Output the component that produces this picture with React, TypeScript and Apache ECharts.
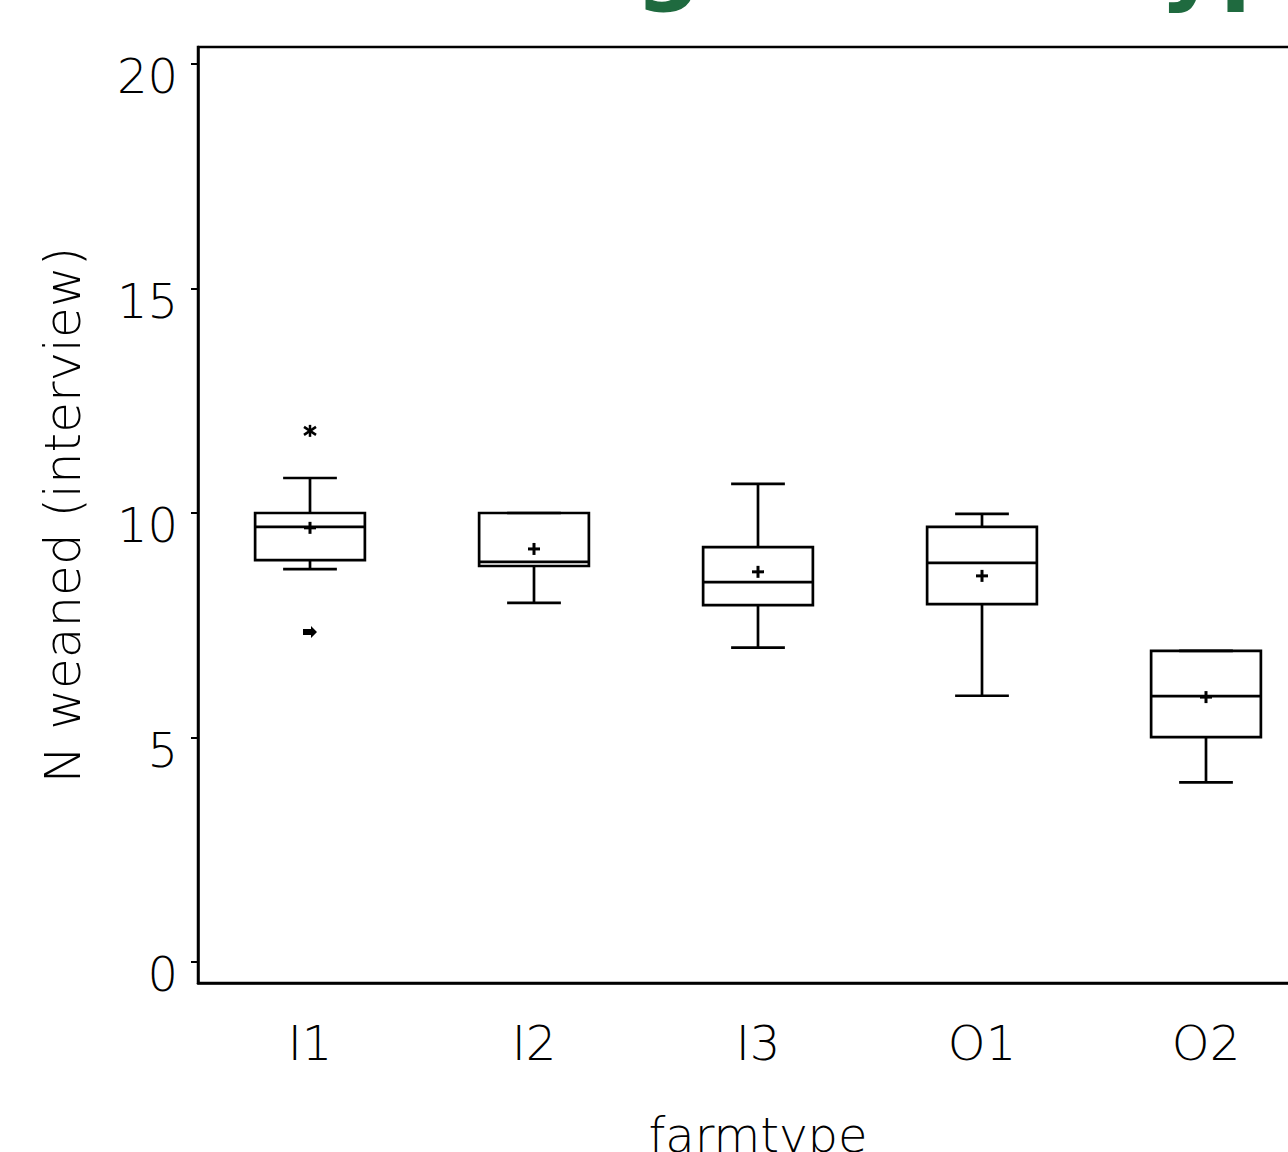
import React, { useEffect, useRef } from "react";
import * as echarts from "echarts";

// ---- data ----
const categories = ["I1", "I2", "I3", "O1", "O2"];
const whiskerLow = [8.75, 8.0, 7.0, 5.93, 4.0];
const quartile1 = [8.95, 8.82, 7.95, 7.97, 5.01];
const medians = [9.69, 8.91, 8.46, 8.89, 5.92];
const quartile3 = [10.0, 10.0, 9.24, 9.69, 6.93];
const whiskerHigh = [10.78, 10.0, 10.65, 9.98, 6.93];
const means = [9.67, 9.2, 8.69, 8.6, 5.9];
const outlierCategory = ["I1", "I1"];
const outlierValues = [11.83, 7.35];
const outlierSymbols = ["star", "arrow"];
const yTicks = [0, 5, 10, 15, 20];
const yAxisTitle = "N weaned (interview)";
const xAxisTitle = "farmtype";
const titleText = "Weaned according to farmtype";

const FONT = "'DejaVu Sans ExtraLight', 'DejaVu Sans'";

export default function App() {
  const ref = useRef<HTMLDivElement | null>(null);

  useEffect(() => {
    if (!ref.current) return;
    const chart = echarts.init(ref.current, undefined, { renderer: "svg" });

    const boxData = categories.map((c, i) => [
      i,
      whiskerLow[i],
      quartile1[i],
      medians[i],
      quartile3[i],
      whiskerHigh[i],
      means[i],
    ]);
    const outlierData = outlierValues.map((v, i) => [
      categories.indexOf(outlierCategory[i]),
      v,
    ]);

    const lineStyle = { stroke: "#000", lineWidth: 2.7 };

    const boxRender = (params: any, api: any) => {
      const i = api.value(0);
      const pLo = api.coord([i, api.value(1)]);
      const pQ1 = api.coord([i, api.value(2)]);
      const pMed = api.coord([i, api.value(3)]);
      const pQ3 = api.coord([i, api.value(4)]);
      const pHi = api.coord([i, api.value(5)]);
      const pMean = api.coord([i, api.value(6)]);
      const band = api.size([1, 0])[0];
      const half = band * 0.245;
      const cap = band * 0.12;
      const x = pMed[0];
      const m = 6;
      return {
        type: "group",
        children: [
          {
            type: "rect",
            shape: { x: x - half, y: pQ3[1], width: half * 2, height: pQ1[1] - pQ3[1] },
            style: { ...lineStyle, fill: "none" },
          },
          { type: "line", shape: { x1: x - half, y1: pMed[1], x2: x + half, y2: pMed[1] }, style: lineStyle },
          { type: "line", shape: { x1: x, y1: pQ3[1], x2: x, y2: pHi[1] }, style: lineStyle },
          { type: "line", shape: { x1: x - cap, y1: pHi[1], x2: x + cap, y2: pHi[1] }, style: lineStyle },
          { type: "line", shape: { x1: x, y1: pQ1[1], x2: x, y2: pLo[1] }, style: lineStyle },
          { type: "line", shape: { x1: x - cap, y1: pLo[1], x2: x + cap, y2: pLo[1] }, style: lineStyle },
          { type: "line", shape: { x1: x - m, y1: pMean[1], x2: x + m, y2: pMean[1] }, style: { stroke: "#000", lineWidth: 3 } },
          { type: "line", shape: { x1: x, y1: pMean[1] - m, x2: x, y2: pMean[1] + m }, style: { stroke: "#000", lineWidth: 3 } },
        ],
      };
    };

    const outlierRender = (params: any, api: any) => {
      const i = api.value(0);
      const p = api.coord([i, api.value(1)]);
      const x = p[0];
      const y = p[1];
      const kind = outlierSymbols[params.dataIndex];
      if (kind === "star") {
        const s = { stroke: "#000", lineWidth: 2.5 };
        return {
          type: "group",
          children: [
            { type: "line", shape: { x1: x, y1: y - 6, x2: x, y2: y + 6 }, style: s },
            { type: "line", shape: { x1: x - 6, y1: y - 4, x2: x + 6, y2: y + 4 }, style: s },
            { type: "line", shape: { x1: x - 6, y1: y + 4, x2: x + 6, y2: y - 4 }, style: s },
          ],
        };
      }
      return {
        type: "polygon",
        shape: {
          points: [
            [x - 7, y - 3],
            [x + 1, y - 3],
            [x + 1, y - 6],
            [x + 7, y],
            [x + 1, y + 6],
            [x + 1, y + 3],
            [x - 7, y + 3],
          ],
        },
        style: { fill: "#000" },
      };
    };

    const textStyle = {
      fontFamily: FONT,
      fontSize: 48,
      fontWeight: 200 as any,
      color: "#000",
    };

    chart.setOption({
      animation: false,
      backgroundColor: "#ffffff",
      grid: {
        left: 198,
        top: 47,
        right: -30,
        bottom: 169,
        show: true,
        borderColor: "#000",
        borderWidth: 2.5,
        backgroundColor: "transparent",
        containLabel: false,
        outerBoundsMode: "none",
      },
      graphic: [
        {
          type: "text",
          x: 1348,
          y: -39,
          style: {
            text: titleText,
            fontFamily: "DejaVu Sans",
            fontWeight: "bold",
            fontSize: 92,
            fill: "#1f6a3f",
            align: "right",
            verticalAlign: "middle",
          },
        },
      ],
      xAxis: {
        type: "category",
        data: categories,
        boundaryGap: true,
        axisLine: { onZero: false, lineStyle: { color: "#000", width: 2.5 } },
        axisTick: { alignWithLabel: true, length: 8, lineStyle: { color: "#000", width: 2 } },
        axisLabel: { ...textStyle, margin: 36 },
        splitLine: { show: false },
        name: xAxisTitle,
        nameLocation: "middle",
        nameGap: 128,
        nameTextStyle: textStyle,
      },
      yAxis: {
        type: "value",
        min: -0.468,
        max: 20.38,
        splitLine: { show: false },
        axisLine: { show: true, onZero: false, lineStyle: { color: "#000", width: 2.5 } },
        axisTick: { show: true, length: 7, customValues: yTicks, lineStyle: { color: "#000", width: 2 } },
        axisLabel: { ...textStyle, customValues: yTicks, margin: 20, verticalAlign: "top", lineHeight: 24 },
        name: yAxisTitle,
        nameLocation: "middle",
        nameGap: 110,
        nameRotate: 90,
        nameTextStyle: { ...textStyle, fontSize: 50 },
      },
      series: [
        {
          type: "custom",
          coordinateSystem: "cartesian2d",
          renderItem: boxRender,
          data: boxData,
          encode: { x: 0, y: [1, 2, 3, 4, 5] },
          z: 3,
        },
        {
          type: "custom",
          coordinateSystem: "cartesian2d",
          renderItem: outlierRender,
          data: outlierData,
          encode: { x: 0, y: 1 },
          z: 3,
        },
      ],
    });

    return () => chart.dispose();
  }, []);

  return (
    <div
      style={{
        position: "absolute",
        left: 0,
        top: 0,
        width: 1288,
        height: 1152,
        overflow: "hidden",
        background: "#fff",
      }}
    >
      <div ref={ref} style={{ width: 1288, height: 1152 }} />
    </div>
  );
}
